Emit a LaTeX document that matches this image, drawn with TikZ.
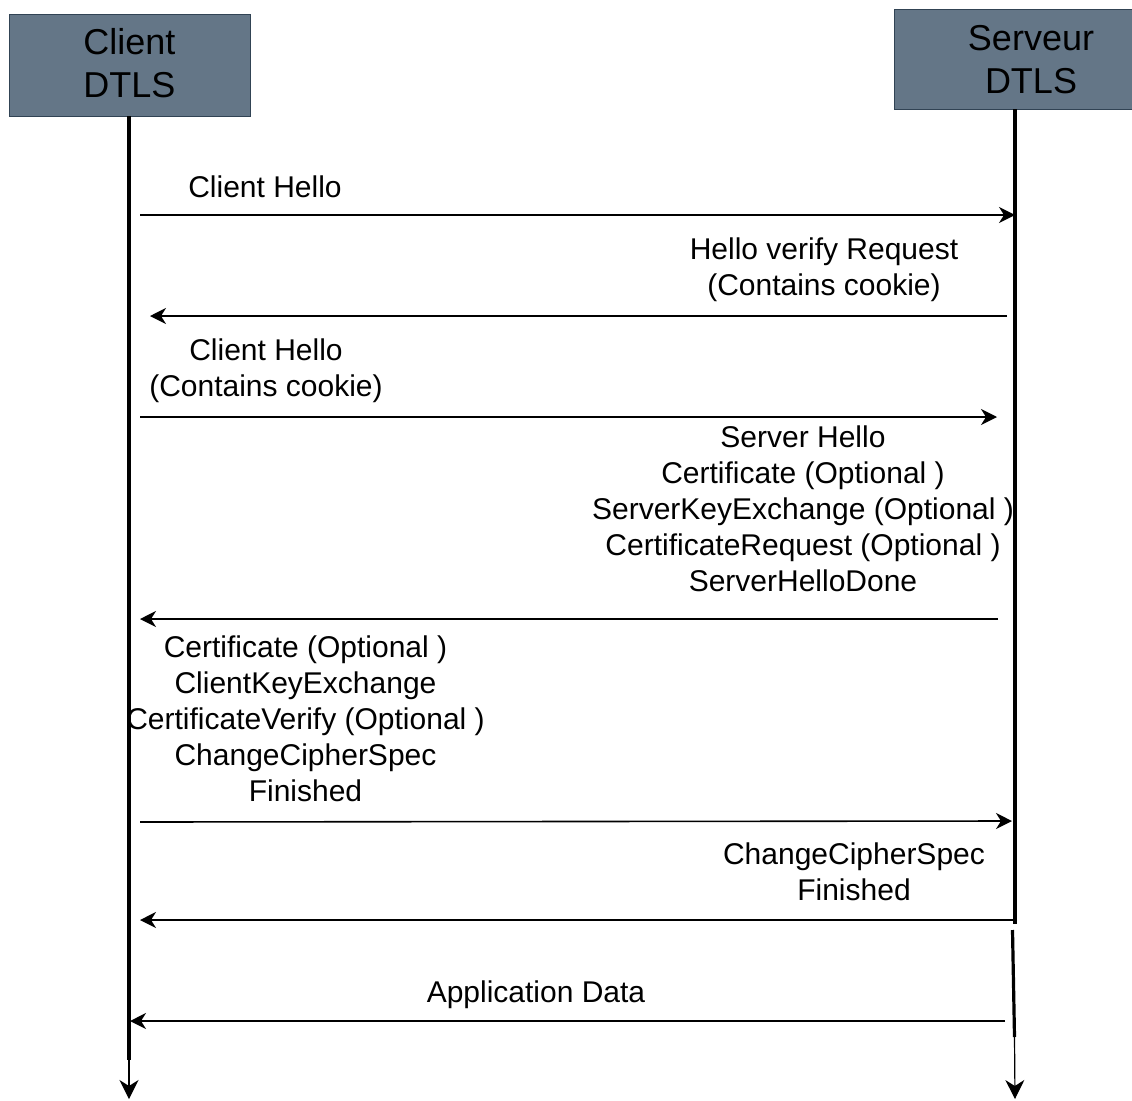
\documentclass[tikz,border=0pt]{standalone}
\usepackage{fontspec}
\setmainfont{Liberation Sans}
\usetikzlibrary{arrows.meta}
\definecolor{boxfill}{HTML}{647687}
\definecolor{boxline}{HTML}{314354}
\begin{document}
\begin{tikzpicture}[x=1pt,y=-1pt,
  actor/.style={draw=boxline,line width=1pt,fill=boxfill,inner sep=0pt,
     font=\fontsize{36}{43}\selectfont,align=center},
  lbl/.style={font=\fontsize{30}{36}\selectfont,align=center,inner sep=0pt},
  msg/.style={line width=1.6pt,-{Stealth[length=16pt,width=16pt,inset=5pt]}},
  life/.style={line width=3.2pt},
  lifetail/.style={line width=1.2pt,-{Stealth[length=19pt,width=19pt,inset=6pt]}}]
\useasboundingbox (0,0) rectangle (1132,1100);
% actor boxes
\node[actor,minimum width=241pt,minimum height=102pt] (cbox) at (129.5,65) {};
\node[font=\fontsize{36}{43}\selectfont,align=center,inner sep=0pt] (ctext) at (129.5,63) {Client\\DTLS};
\node[actor,minimum width=238pt,minimum height=100pt] (sbox) at (1013,59) {};
\node[font=\fontsize{36}{43}\selectfont,align=center,inner sep=0pt] (stext) at (1031,60) {Serveur\\DTLS};
% lifeline coordinates
\coordinate (c0) at (129,116);
\coordinate (c1) at (129,1060);
\coordinate (c2) at (129,1099);
\coordinate (s0) at (1015,109);
\coordinate (s1) at (1015,924);
\coordinate (s2) at (1012.5,930);
\coordinate (s3) at (1014.5,1037);
\coordinate (s4) at (1015,1099);
\draw[life] (c0) -- (c1);
\draw[lifetail] (c1) -- (c2);
\draw[life] (s0) -- (s1);
\draw[life] (s2) -- (s3);
\draw[lifetail] (s3) -- (s4);
% message endpoints
\coordinate (m1a) at (140,215);  \coordinate (m1b) at (1015,215);
\coordinate (m2a) at (1007,316); \coordinate (m2b) at (150,316);
\coordinate (m3a) at (140,417);  \coordinate (m3b) at (997,417);
\coordinate (m4a) at (998,619);  \coordinate (m4b) at (140,619);
\coordinate (m5a) at (140,822);  \coordinate (m5b) at (1012,821);
\coordinate (m6a) at (1017,920); \coordinate (m6b) at (140,920);
\coordinate (m7a) at (1005,1021); \coordinate (m7b) at (130,1021);
\draw[msg] (m1a) -- (m1b);
\draw[msg] (m2a) -- (m2b);
\draw[msg] (m3a) -- (m3b);
\draw[msg] (m4a) -- (m4b);
\draw[msg] (m5a) -- (m5b);
\draw[msg] (m6a) -- (m6b);
\draw[msg] (m7a) -- (m7b);
% labels
\node[lbl] (l1) at (265,187) {Client Hello};
\node[lbl] (l2) at (824,270) {Hello verify Request\\(Contains cookie)};
\node[lbl] (l3) at (266,371) {Client Hello\\(Contains cookie)};
\node[lbl] (l4) at (803,509) {Server Hello\\Certificate (Optional )\\ServerKeyExchange (Optional )\\CertificateRequest (Optional )\\ServerHelloDone};
\node[lbl] (l5) at (305.5,718.5) {Certificate (Optional )\\ClientKeyExchange\\CertificateVerify (Optional )\\ChangeCipherSpec\\Finished};
\node[lbl] (l6) at (854,872) {ChangeCipherSpec\\Finished};
\node[lbl] (l7) at (536,995) {Application Data};
\end{tikzpicture}
\end{document}
